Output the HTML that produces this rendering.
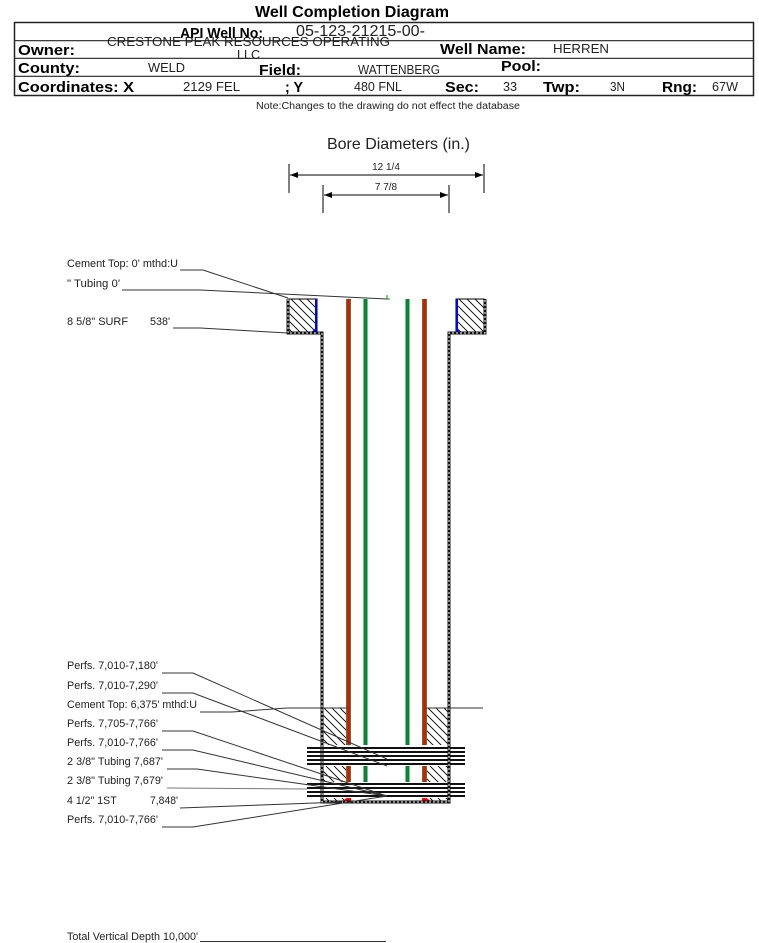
<!DOCTYPE html>
<html><head><meta charset="utf-8"><style>
html,body{margin:0;padding:0;background:#fff;}
svg{display:block;}
text{font-family:"Liberation Sans",Arial,sans-serif;}
.b{font-weight:bold;font-size:15px;fill:#000;}
.v{font-size:13px;fill:#222;}
.s{font-size:10.6px;fill:#222;}
.ld{fill:none;stroke:#333;stroke-width:1;}
</style></head><body>
<svg width="759" height="943" viewBox="0 0 759 943" xmlns="http://www.w3.org/2000/svg">
<defs>
<pattern id="h" patternUnits="userSpaceOnUse" width="8" height="8">
<path d="M-1,-1 L9,9 M-1,7 L1,9 M7,-1 L9,1" stroke="#000" stroke-width="0.9" fill="none"/>
</pattern>
</defs>
<rect width="759" height="943" fill="#fff"/>

<!-- Title -->
<text x="352" y="17" text-anchor="middle" class="b" style="font-size:16px" textLength="194" lengthAdjust="spacingAndGlyphs">Well Completion Diagram</text>

<!-- Header table -->
<rect x="14.5" y="22.5" width="739" height="73" fill="none" stroke="#222" stroke-width="1.5"/>
<line x1="14" y1="40.7" x2="753" y2="40.7" stroke="#222" stroke-width="1.2"/>
<line x1="14" y1="58.3" x2="753" y2="58.3" stroke="#222" stroke-width="1.2"/>
<line x1="14" y1="76.3" x2="753" y2="76.3" stroke="#222" stroke-width="1.2"/>

<text x="180" y="38" class="b" textLength="83" lengthAdjust="spacingAndGlyphs">API Well No:</text>
<text x="296" y="36" class="v" style="font-size:16px" textLength="129" lengthAdjust="spacingAndGlyphs">05-123-21215-00-</text>
<text x="107" y="46" class="v" textLength="283" lengthAdjust="spacingAndGlyphs">CRESTONE PEAK RESOURCES OPERATING</text>
<text x="237" y="59" class="v" textLength="23" lengthAdjust="spacingAndGlyphs">LLC</text>

<text x="18" y="55" class="b" textLength="57" lengthAdjust="spacingAndGlyphs">Owner:</text>
<text x="440" y="54" class="b" textLength="86" lengthAdjust="spacingAndGlyphs">Well Name:</text>
<text x="553" y="53" class="v" textLength="56" lengthAdjust="spacingAndGlyphs">HERREN</text>

<text x="18" y="73" class="b" textLength="62" lengthAdjust="spacingAndGlyphs">County:</text>
<text x="148" y="72" class="v" textLength="37" lengthAdjust="spacingAndGlyphs">WELD</text>
<text x="259" y="75" class="b" textLength="42" lengthAdjust="spacingAndGlyphs">Field:</text>
<text x="358" y="74" class="v" textLength="82" lengthAdjust="spacingAndGlyphs">WATTENBERG</text>
<text x="501" y="71" class="b" textLength="40" lengthAdjust="spacingAndGlyphs">Pool:</text>

<text x="18" y="92" class="b" textLength="116" lengthAdjust="spacingAndGlyphs">Coordinates: X</text>
<text x="183" y="91" class="v" textLength="57" lengthAdjust="spacingAndGlyphs">2129 FEL</text>
<text x="285" y="92" class="b" textLength="18" lengthAdjust="spacingAndGlyphs">; Y</text>
<text x="354" y="91" class="v" textLength="48" lengthAdjust="spacingAndGlyphs">480 FNL</text>
<text x="445" y="92" class="b" textLength="34" lengthAdjust="spacingAndGlyphs">Sec:</text>
<text x="503" y="91" class="v" textLength="14" lengthAdjust="spacingAndGlyphs">33</text>
<text x="543" y="92" class="b" textLength="37" lengthAdjust="spacingAndGlyphs">Twp:</text>
<text x="610" y="91" class="v" textLength="15" lengthAdjust="spacingAndGlyphs">3N</text>
<text x="662" y="92" class="b" textLength="35" lengthAdjust="spacingAndGlyphs">Rng:</text>
<text x="712" y="91" class="v" textLength="26" lengthAdjust="spacingAndGlyphs">67W</text>

<text x="256" y="109" style="font-size:10px;fill:#222" textLength="264" lengthAdjust="spacingAndGlyphs">Note:Changes to the drawing do not effect the database</text>

<!-- Bore diameters -->
<text x="398.5" y="149" text-anchor="middle" style="font-size:16px;fill:#222" textLength="143" lengthAdjust="spacingAndGlyphs">Bore Diameters (in.)</text>
<text x="386" y="170" text-anchor="middle" style="font-size:10px;fill:#222">12 1/4</text>
<text x="386" y="190" text-anchor="middle" style="font-size:10px;fill:#222">7 7/8</text>
<line x1="289" y1="164" x2="289" y2="193" stroke="#000" stroke-width="1"/>
<line x1="484" y1="164" x2="484" y2="193" stroke="#000" stroke-width="1"/>
<line x1="290" y1="175" x2="483" y2="175" stroke="#000" stroke-width="1"/>
<path d="M290,175 L298,172 L298,178 Z M483,175 L475,172 L475,178 Z" fill="#000"/>
<line x1="323" y1="185" x2="323" y2="213" stroke="#000" stroke-width="1"/>
<line x1="449" y1="185" x2="449" y2="213" stroke="#000" stroke-width="1"/>
<line x1="324" y1="195" x2="448" y2="195" stroke="#000" stroke-width="1"/>
<path d="M324,195 L332,192 L332,198 Z M448,195 L440,192 L440,198 Z" fill="#000"/>

<!-- Surface casing blocks -->
<rect x="288" y="299" width="29" height="34" fill="url(#h)" stroke="#000" stroke-width="1"/>
<rect x="456" y="299" width="28" height="34" fill="url(#h)" stroke="#000" stroke-width="1"/>
<line x1="316" y1="299" x2="316" y2="333" stroke="#0000ff" stroke-width="2"/>
<line x1="457" y1="299" x2="457" y2="333" stroke="#0000ff" stroke-width="2"/>
<path d="M317,323 Q316,331 308,333 L317,333 Z" fill="#0000ff"/>
<path d="M456,323 Q457,331 465,333 L456,333 Z" fill="#0000ff"/>

<!-- Lower cement hatch -->
<rect x="323.5" y="708" width="22.5" height="94" fill="url(#h)"/>
<rect x="427" y="708" width="21" height="94" fill="url(#h)"/>

<!-- Tubes -->
<rect x="346" y="299" width="5" height="503" fill="#2f8f2f"/>
<rect x="347.2" y="299" width="2.6" height="503" fill="#ff0000"/>
<rect x="422" y="299" width="5" height="503" fill="#2f8f2f"/>
<rect x="423.2" y="299" width="2.6" height="503" fill="#ff0000"/>
<rect x="363" y="299" width="5" height="484" fill="#7cc47c"/>
<rect x="364" y="299" width="3" height="484" fill="#0b8043"/>
<rect x="405" y="299" width="5" height="484" fill="#7cc47c"/>
<rect x="406" y="299" width="3" height="484" fill="#0b8043"/>
<path d="M340,802 Q346,799 351,795 L351,802 Z" fill="#ff0000"/>
<path d="M422,795 Q427,799 433,802 L422,802 Z" fill="#ff0000"/>

<!-- Perf bands -->
<rect x="307" y="745" width="158" height="21" fill="#fff"/>
<g stroke="#111" stroke-width="2">
<line x1="307" y1="748" x2="465" y2="748"/>
<line x1="307" y1="752" x2="465" y2="752"/>
<line x1="307" y1="756" x2="465" y2="756"/>
<line x1="307" y1="760" x2="465" y2="760"/>
<line x1="307" y1="764" x2="465" y2="764"/>
</g>
<rect x="307" y="782" width="158" height="16" fill="#fff"/>
<g stroke="#111" stroke-width="2">
<line x1="307" y1="784" x2="465" y2="784"/>
<line x1="307" y1="788" x2="465" y2="788"/>
<line x1="307" y1="792" x2="465" y2="792"/>
<line x1="307" y1="796" x2="465" y2="796"/>
</g>

<!-- Hole walls -->
<polyline points="288,299 288,333 322,333 322,802 449,802 449,333 485,333 485,299" fill="none" stroke="#111" stroke-width="3"/>
<polyline points="288,299 288,333 322,333 322,802 449,802 449,333 485,333 485,299" fill="none" stroke="#fff" stroke-width="1" stroke-dasharray="2,2"/>

<!-- Top leaders -->
<text x="67" y="267" class="s" textLength="111" lengthAdjust="spacingAndGlyphs">Cement Top: 0' mthd:U</text>
<polyline class="ld" points="180,270 203,270 288,298"/>
<text x="67" y="287" class="s" textLength="53" lengthAdjust="spacingAndGlyphs">" Tubing 0'</text>
<polyline class="ld" points="122,290 200,290 387,299"/>
<path d="M387,299 L390,299 M387,295 L387,299" stroke="#0a8a0a" stroke-width="1" fill="none"/>
<text x="67" y="325" class="s" textLength="61" lengthAdjust="spacingAndGlyphs">8 5/8" SURF</text>
<text x="150" y="325" class="s" textLength="20" lengthAdjust="spacingAndGlyphs">538'</text>
<polyline class="ld" points="173,328 200,328 288,333"/>

<!-- Lower leaders -->
<text x="67" y="669" class="s" textLength="91" lengthAdjust="spacingAndGlyphs">Perfs. 7,010-7,180'</text>
<polyline class="ld" points="162,673 193,673 387,759"/>
<text x="67" y="689" class="s" textLength="91" lengthAdjust="spacingAndGlyphs">Perfs. 7,010-7,290'</text>
<polyline class="ld" points="162,693 193,693 387,766"/>
<text x="67" y="708" class="s" textLength="130" lengthAdjust="spacingAndGlyphs">Cement Top: 6,375' mthd:U</text>
<polyline class="ld" points="200,712 232,712 287,708 347,708"/>
<line class="ld" x1="426" y1="708" x2="483" y2="708"/>
<text x="67" y="727" class="s" textLength="91" lengthAdjust="spacingAndGlyphs">Perfs. 7,705-7,766'</text>
<polyline class="ld" points="162,731 193,731 387,796"/>
<text x="67" y="746" class="s" textLength="91" lengthAdjust="spacingAndGlyphs">Perfs. 7,010-7,766'</text>
<polyline class="ld" points="162,750 193,750 387,796"/>
<text x="67" y="765" class="s" textLength="96" lengthAdjust="spacingAndGlyphs">2 3/8" Tubing 7,687'</text>
<polyline class="ld" points="167,769 197,769 387,796"/>
<text x="67" y="784" class="s" textLength="96" lengthAdjust="spacingAndGlyphs">2 3/8" Tubing 7,679'</text>
<polyline points="167,788 307,789" fill="none" stroke="#777" stroke-width="1"/>
<text x="67" y="804" class="s">4 1/2" 1ST</text>
<text x="150" y="804" class="s" textLength="28" lengthAdjust="spacingAndGlyphs">7,848'</text>
<polyline class="ld" points="180,808 342,802"/>
<text x="67" y="823" class="s" textLength="91" lengthAdjust="spacingAndGlyphs">Perfs. 7,010-7,766'</text>
<polyline class="ld" points="162,827 193,827 387,796"/>

<!-- TVD -->
<text x="67" y="940" class="s" textLength="131" lengthAdjust="spacingAndGlyphs">Total Vertical Depth 10,000'</text>
<line x1="200" y1="941.5" x2="386" y2="941.5" stroke="#333" stroke-width="1"/>
</svg>
</body></html>
